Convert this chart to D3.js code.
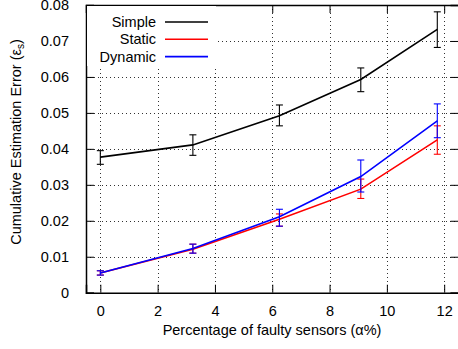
<!DOCTYPE html>
<html>
<head>
<meta charset="utf-8">
<script src="https://cdn.jsdelivr.net/npm/d3@7"></script>
<style>
  body { margin: 0; background: #fff; }
  svg { display: block; font-family: "Liberation Sans", Arial, sans-serif; }
</style>
</head>
<body>
<svg width="458" height="349"></svg>
<script>
// faulty sensor percentage
let alphas = [0, 3.23, 6.25, 9.09, 11.76];

let seriesNames = ["Simple", "Static", "Dynamic"];
let seriesColors = ["#000000", "#ff0000", "#0000ff"];

let simpleMean = [0.0377, 0.0411, 0.0492, 0.0593, 0.0732];
let simpleLow  = [0.0357, 0.0382, 0.0464, 0.0559, 0.0682];
let simpleHigh = [0.0395, 0.0439, 0.0522, 0.0625, 0.0781];

let staticMean = [0.0055, 0.0121, 0.0204, 0.0288, 0.0425];
let staticLow  = [0.0049, 0.0110, 0.0185, 0.0262, 0.0385];
let staticHigh = [0.0061, 0.0135, 0.0219, 0.0316, 0.0464];

let dynamicMean = [0.0055, 0.0123, 0.0211, 0.0323, 0.0478];
let dynamicLow  = [0.0049, 0.0110, 0.0185, 0.0280, 0.0431];
let dynamicHigh = [0.0061, 0.0135, 0.0232, 0.0369, 0.0525];

let xTicks = [0, 2, 4, 6, 8, 10, 12];
let yTicks = [0, 0.01, 0.02, 0.03, 0.04, 0.05, 0.06, 0.07, 0.08];

let svg = d3.select("svg");
let pLeft = 86, pRight = 458.5, pTop = 5, pBottom = 292.7;
let fontSize = 14.5;

let x = d3.scaleLinear().domain([-0.5, 12.5]).range([pLeft, pRight]);
let y = d3.scaleLinear().domain([0, 0.08]).range([pBottom, pTop]);

let allSeries = [
    { mean: simpleMean, low: simpleLow, high: simpleHigh },
    { mean: staticMean, low: staticLow, high: staticHigh },
    { mean: dynamicMean, low: dynamicLow, high: dynamicHigh }
];

// grid
let grid = svg.append("g").attr("stroke", "#000").attr("stroke-width", 1)
    .attr("stroke-dasharray", "1,3").attr("opacity", 0.8);
grid.selectAll(".gx").data(xTicks).enter().append("line")
    .attr("x1", d => Math.round(x(d)) + 0.5).attr("x2", d => Math.round(x(d)) + 0.5)
    .attr("y1", pTop).attr("y2", pBottom);
grid.selectAll(".gy").data(yTicks.slice(1, -1)).enter().append("line")
    .attr("y1", d => Math.round(y(d)) + 0.5).attr("y2", d => Math.round(y(d)) + 0.5)
    .attr("x1", pLeft).attr("x2", pRight);

// axes, ticks inward and mirrored
let axisB = svg.append("g").attr("transform", `translate(0,${pBottom})`)
    .call(d3.axisBottom(x).tickValues(xTicks).tickSize(-8).tickPadding(13));
let axisT = svg.append("g").attr("transform", `translate(0,${pTop})`)
    .call(d3.axisTop(x).tickValues(xTicks).tickSize(-8).tickFormat(""));
let axisL = svg.append("g").attr("transform", `translate(${pLeft},0)`)
    .call(d3.axisLeft(y).tickValues(yTicks).tickSize(-8).tickPadding(17)
        .tickFormat(d => d === 0 ? "0" : d3.format(".2f")(d)));
let axisR = svg.append("g").attr("transform", `translate(${pRight},0)`)
    .call(d3.axisRight(y).tickValues(yTicks).tickSize(-8).tickFormat(""));

[axisB, axisT, axisL, axisR].forEach(function(a) {
    a.select(".domain").attr("stroke", "#000").attr("stroke-width", 1.5);
    a.selectAll(".tick line").attr("stroke", "#000");
    a.selectAll("text").attr("font-size", fontSize).attr("fill", "#000")
        .attr("font-family", "Liberation Sans, Arial, sans-serif");
});

// lines, straight segments between points
let line = d3.line()
    .x((d, i) => x(alphas[i])).y(d => y(d));

allSeries.forEach(function(s, k) {
    let g = svg.append("g");
    g.append("path").datum(s.mean).attr("d", line)
        .attr("fill", "none").attr("stroke", seriesColors[k]).attr("stroke-width", 1.6);

    let bars = g.selectAll(".bar").data(alphas).enter().append("g")
        .attr("stroke", seriesColors[k]).attr("stroke-width", 1.1);
    bars.append("line")
        .attr("x1", d => x(d)).attr("x2", d => x(d))
        .attr("y1", (d, i) => y(s.low[i])).attr("y2", (d, i) => y(s.high[i]));
    bars.append("line")
        .attr("x1", d => x(d) - 3.5).attr("x2", d => x(d) + 3.5)
        .attr("y1", (d, i) => y(s.low[i])).attr("y2", (d, i) => y(s.low[i]));
    bars.append("line")
        .attr("x1", d => x(d) - 3.5).attr("x2", d => x(d) + 3.5)
        .attr("y1", (d, i) => y(s.high[i])).attr("y2", (d, i) => y(s.high[i]));
});

// legend with white box
let legend = svg.append("g");
legend.append("rect").attr("x", pLeft + 1).attr("y", pTop + 1)
    .attr("width", 129).attr("height", 60).attr("fill", "#fff");
seriesNames.forEach(function(name, k) {
    let ly = 22 + k * 17.3;
    legend.append("text").attr("x", 156).attr("y", ly).attr("dy", "0.35em")
        .attr("text-anchor", "end").attr("font-size", fontSize).text(name);
    legend.append("line").attr("x1", 165).attr("x2", 208)
        .attr("y1", ly).attr("y2", ly)
        .attr("stroke", seriesColors[k]).attr("stroke-width", 1.6);
});

// axis titles
svg.append("text").attr("x", 272).attr("y", 335).attr("text-anchor", "middle")
    .attr("font-size", fontSize).text("Percentage of faulty sensors (\u03b1%)");

let yl = svg.append("text").attr("transform", "translate(21,142) rotate(-90)")
    .attr("text-anchor", "middle").attr("font-size", fontSize);
yl.append("tspan").text("Cumulative Estimation Error (\u03b5");
yl.append("tspan").attr("font-size", 10).attr("dy", 3).text("s");
yl.append("tspan").attr("dy", -3).text(")");
</script>
</body>
</html>
